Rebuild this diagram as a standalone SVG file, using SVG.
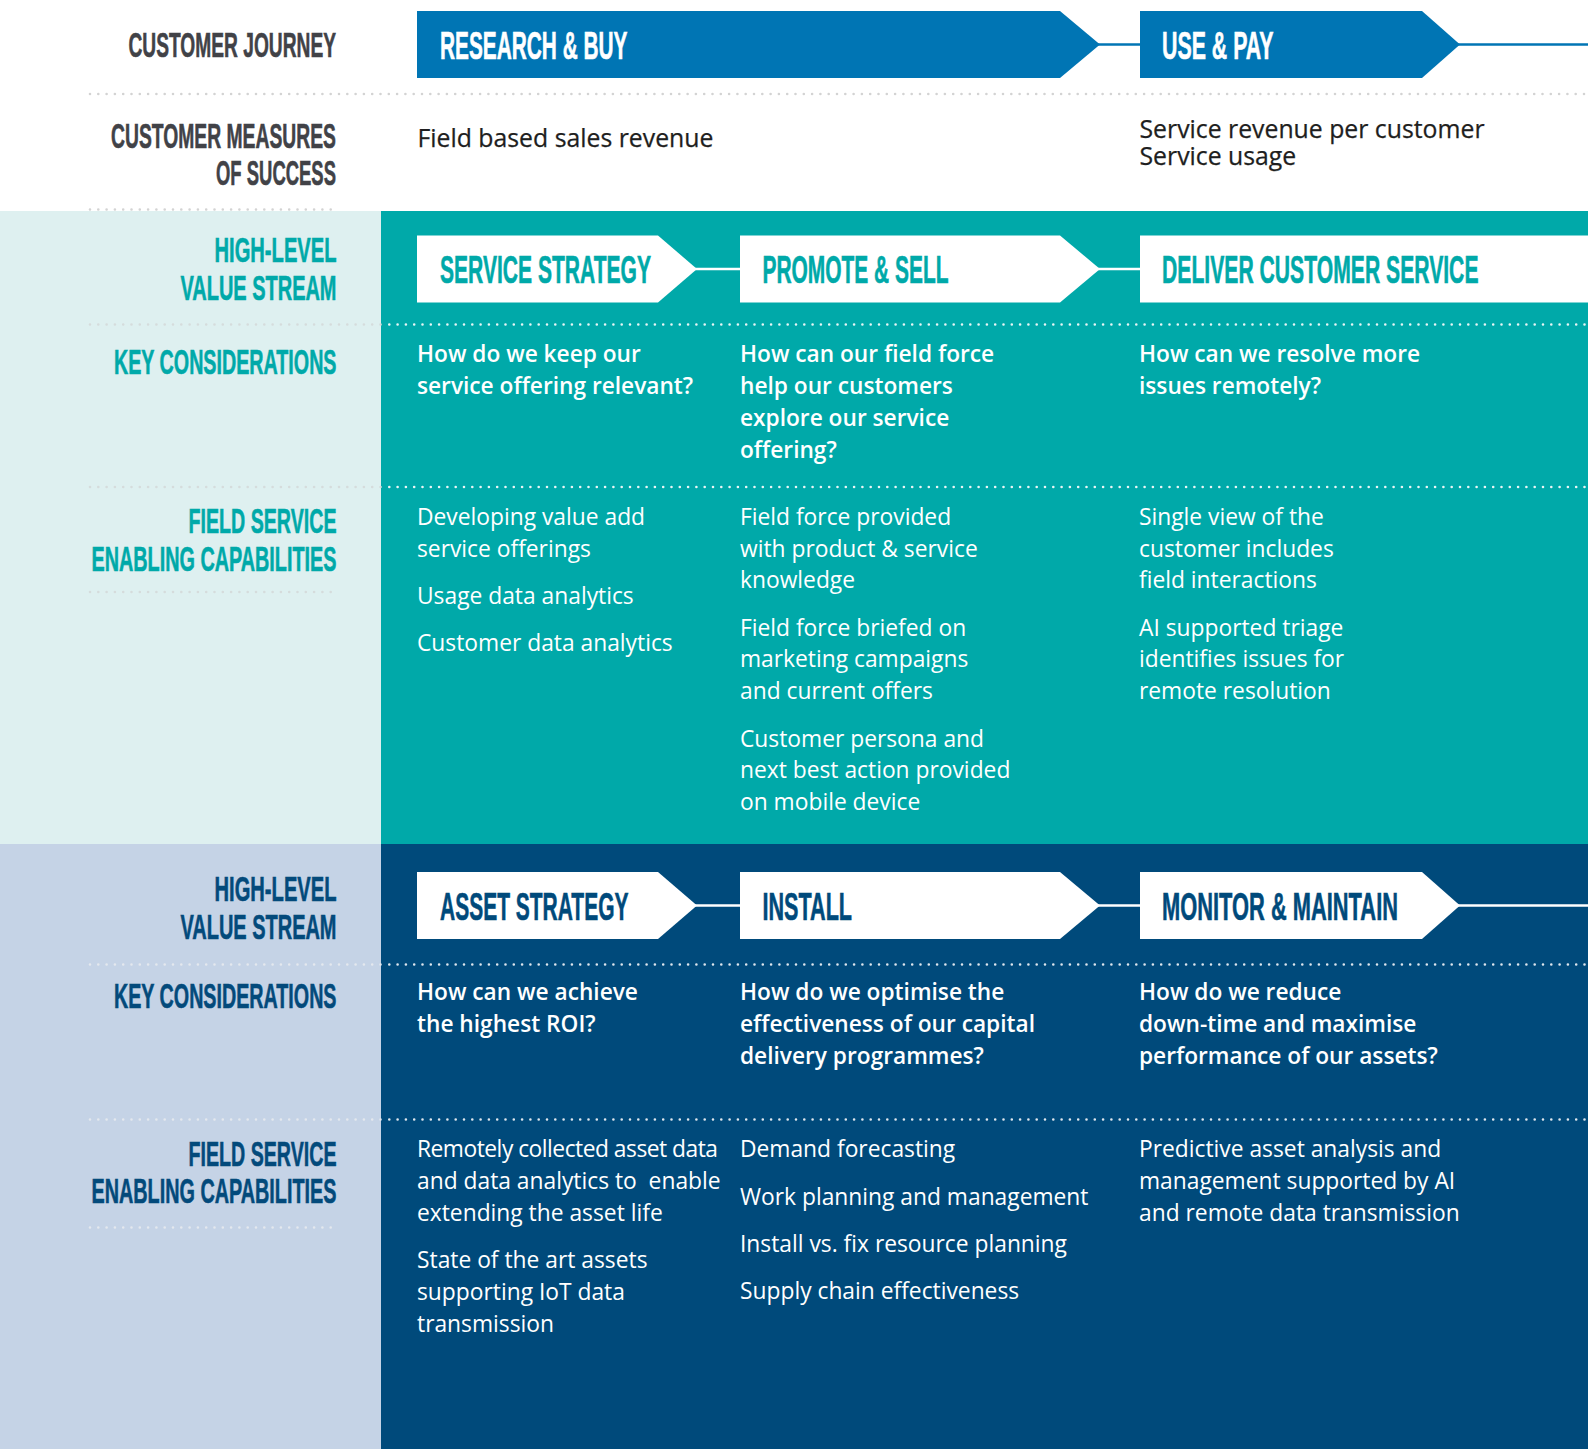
<svg xmlns="http://www.w3.org/2000/svg" width="1588" height="1449" viewBox="0 0 1588 1449">
  <defs>
    <style>
      .lbl { font-family: 'Liberation Sans Narrow', 'Liberation Sans', Arial, sans-serif; font-weight: 700; font-size: 35.5px; text-anchor: end; stroke-width: 0.6px; }
      .lbl-grey { fill: #414247; stroke: #414247; }
      .lbl-teal { fill: #00a9a9; stroke: #00a9a9; }
      .lbl-navy { fill: #034a7b; stroke: #034a7b; }
      .hdr { font-family: 'Liberation Sans Narrow', 'Liberation Sans', Arial, sans-serif; font-weight: 700; font-size: 38.5px; stroke-width: 0.6px; }
      .hdr-white { fill: #ffffff; stroke: #ffffff; }
      .hdr-teal { fill: #00a9a9; stroke: #00a9a9; }
      .hdr-navy { fill: #004a7b; stroke: #004a7b; }
      .body { font-family: 'Open Sans', 'Noto Sans', sans-serif; font-size: 22.8px; }
      .measure { font-family: 'Open Sans', 'Noto Sans', sans-serif; font-size: 24.8px; font-weight: 500; fill: #1e1e20; stroke: #1e1e20; stroke-width: 0.25px; }
      .kc { font-weight: 600; font-size: 22.7px; fill: #ffffff; }
      .cap { font-weight: 400; fill: #ffffff; }
      .dots { fill: none; stroke-width: 2.6; stroke-linecap: round; stroke-dasharray: 0 8.3; }
      .dots-grey { stroke: #d3d3d3; }
      .dots-pale { stroke: #d5dcdc; }
      .dots-paleblue { stroke: #e4e8ee; }
      .dots-white { stroke: #e9f6f6; }
      .dots-navy { stroke: #dfe7ee; }
      .link { fill: none; stroke-width: 2.5; }
      .arrow-blue { fill: #0075b4; }
      .arrow-white { fill: #ffffff; }
    </style>
  </defs>

  <!-- section backgrounds -->
  <rect x="0" y="0" width="1588" height="1449" fill="#ffffff"/>
  <rect x="0" y="211" width="381" height="633" fill="#def0f0"/>
  <rect x="381" y="211" width="1207" height="633" fill="#00a9a9"/>
  <rect x="0" y="844" width="381" height="605" fill="#c5d3e6"/>
  <rect x="381" y="844" width="1207" height="605" fill="#004a7b"/>

  <!-- dotted row separators -->
  <g id="separators">
    <line class="dots dots-grey" x1="90" y1="94" x2="1588" y2="94"/>
    <line class="dots dots-grey" x1="90" y1="209.5" x2="337" y2="209.5"/>
    <line class="dots dots-pale" x1="90" y1="324.5" x2="381" y2="324.5"/>
    <line class="dots dots-white" x1="389.3" y1="324.5" x2="1588" y2="324.5"/>
    <line class="dots dots-pale" x1="90" y1="487" x2="381" y2="487"/>
    <line class="dots dots-white" x1="389.3" y1="487" x2="1588" y2="487"/>
    <line class="dots dots-pale" x1="90" y1="592" x2="337" y2="592"/>
    <line class="dots dots-paleblue" x1="90" y1="964.5" x2="381" y2="964.5"/>
    <line class="dots dots-navy" x1="389.3" y1="964.5" x2="1588" y2="964.5"/>
    <line class="dots dots-paleblue" x1="90" y1="1119.5" x2="381" y2="1119.5"/>
    <line class="dots dots-navy" x1="389.3" y1="1119.5" x2="1588" y2="1119.5"/>
    <line class="dots dots-paleblue" x1="90" y1="1227.5" x2="337" y2="1227.5"/>
  </g>

  <!-- row labels -->
  <g id="label-customer-journey"><text class="lbl lbl-grey" x="336" y="57" textLength="207.5" lengthAdjust="spacingAndGlyphs">CUSTOMER JOURNEY</text></g>
  <g id="label-customer-measures">
    <text class="lbl lbl-grey" x="336" y="148" textLength="225" lengthAdjust="spacingAndGlyphs">CUSTOMER MEASURES</text>
    <text class="lbl lbl-grey" x="336" y="184.5" textLength="120" lengthAdjust="spacingAndGlyphs">OF SUCCESS</text>
  </g>
  <g id="label-service-value-stream">
    <text class="lbl lbl-teal" x="336.5" y="262" textLength="122" lengthAdjust="spacingAndGlyphs">HIGH-LEVEL</text>
    <text class="lbl lbl-teal" x="336.5" y="299.5" textLength="156" lengthAdjust="spacingAndGlyphs">VALUE STREAM</text>
  </g>
  <g id="label-service-considerations"><text class="lbl lbl-teal" x="336.5" y="374" textLength="222.5" lengthAdjust="spacingAndGlyphs">KEY CONSIDERATIONS</text></g>
  <g id="label-service-capabilities">
    <text class="lbl lbl-teal" x="336.5" y="532.5" textLength="148" lengthAdjust="spacingAndGlyphs">FIELD SERVICE</text>
    <text class="lbl lbl-teal" x="336.5" y="571" textLength="245" lengthAdjust="spacingAndGlyphs">ENABLING CAPABILITIES</text>
  </g>
  <g id="label-asset-value-stream">
    <text class="lbl lbl-navy" x="336.5" y="900.5" textLength="122" lengthAdjust="spacingAndGlyphs">HIGH-LEVEL</text>
    <text class="lbl lbl-navy" x="336.5" y="938.5" textLength="156" lengthAdjust="spacingAndGlyphs">VALUE STREAM</text>
  </g>
  <g id="label-asset-considerations"><text class="lbl lbl-navy" x="336.5" y="1008" textLength="222.5" lengthAdjust="spacingAndGlyphs">KEY CONSIDERATIONS</text></g>
  <g id="label-asset-capabilities">
    <text class="lbl lbl-navy" x="336.5" y="1166" textLength="148" lengthAdjust="spacingAndGlyphs">FIELD SERVICE</text>
    <text class="lbl lbl-navy" x="336.5" y="1203" textLength="245" lengthAdjust="spacingAndGlyphs">ENABLING CAPABILITIES</text>
  </g>

  <!-- connectors between chevrons -->
  <g id="connectors">
    <line class="link" stroke="#0075b4" x1="1098" y1="44.5" x2="1142" y2="44.5"/>
    <line class="link" stroke="#0075b4" x1="1458" y1="44.5" x2="1588" y2="44.5"/>
    <line class="link" stroke="#ffffff" x1="695" y1="269" x2="742" y2="269"/>
    <line class="link" stroke="#ffffff" x1="1098" y1="269" x2="1142" y2="269"/>
    <line class="link" stroke="#ffffff" x1="695" y1="905.5" x2="742" y2="905.5"/>
    <line class="link" stroke="#ffffff" x1="1098" y1="905.5" x2="1142" y2="905.5"/>
    <line class="link" stroke="#ffffff" x1="1458" y1="905.5" x2="1588" y2="905.5"/>
  </g>

  <!-- customer journey chevrons -->
  <g id="node-research-buy">
    <path class="arrow-blue" d="M417,11 H1060 L1100,44.5 L1060,78 H417 Z"/>
    <text class="hdr hdr-white" x="440" y="59" textLength="187.5" lengthAdjust="spacingAndGlyphs">RESEARCH &amp; BUY</text>
  </g>
  <g id="node-use-pay">
    <path class="arrow-blue" d="M1140,11 H1422 L1460,44.5 L1422,78 H1140 Z"/>
    <text class="hdr hdr-white" x="1162" y="59" textLength="111.5" lengthAdjust="spacingAndGlyphs">USE &amp; PAY</text>
  </g>

  <!-- customer measures of success -->
  <g id="measures-research-buy">
    <text class="measure" x="417.5" y="147">Field based sales revenue</text>
  </g>
  <g id="measures-use-pay">
    <text class="measure" x="1139.5" y="137.5">Service revenue per customer</text>
    <text class="measure" x="1139.5" y="165">Service usage</text>
  </g>

  <!-- field service value stream -->
  <g id="node-service-strategy">
    <path class="arrow-white" d="M417,235.5 H658 L697,269 L658,302.5 H417 Z"/>
    <text class="hdr hdr-teal" x="440" y="283" textLength="211" lengthAdjust="spacingAndGlyphs">SERVICE STRATEGY</text>
  </g>
  <g id="node-promote-sell">
    <path class="arrow-white" d="M740,235.5 H1060 L1100,269 L1060,302.5 H740 Z"/>
    <text class="hdr hdr-teal" x="762.5" y="283" textLength="186" lengthAdjust="spacingAndGlyphs">PROMOTE &amp; SELL</text>
  </g>
  <g id="node-deliver-customer-service">
    <rect class="arrow-white" x="1140" y="235.5" width="448" height="67"/>
    <text class="hdr hdr-teal" x="1162" y="283" textLength="316.5" lengthAdjust="spacingAndGlyphs">DELIVER CUSTOMER SERVICE</text>
  </g>

  <g id="kc-service-strategy" class="body kc">
    <text x="417" y="361.5">How do we keep our</text>
    <text x="417" y="393.5">service offering relevant?</text>
  </g>
  <g id="kc-promote-sell" class="body kc">
    <text x="740" y="361.5">How can our field force</text>
    <text x="740" y="393.5">help our customers</text>
    <text x="740" y="425.5">explore our service</text>
    <text x="740" y="457.5">offering?</text>
  </g>
  <g id="kc-deliver-customer-service" class="body kc">
    <text x="1139" y="361.5">How can we resolve more</text>
    <text x="1139" y="393.5">issues remotely?</text>
  </g>

  <g id="cap-service-strategy" class="body cap">
    <text x="417" y="525">Developing value add</text>
    <text x="417" y="556.7">service offerings</text>
    <text x="417" y="603.5">Usage data analytics</text>
    <text x="417" y="650.7">Customer data analytics</text>
  </g>
  <g id="cap-promote-sell" class="body cap">
    <text x="740" y="525">Field force provided</text>
    <text x="740" y="556.7">with product &amp; service</text>
    <text x="740" y="588.4">knowledge</text>
    <text x="740" y="635.5">Field force briefed on</text>
    <text x="740" y="667.3">marketing campaigns</text>
    <text x="740" y="699">and current offers</text>
    <text x="740" y="746.5">Customer persona and</text>
    <text x="740" y="778.3">next best action provided</text>
    <text x="740" y="810">on mobile device</text>
  </g>
  <g id="cap-deliver-customer-service" class="body cap">
    <text x="1139" y="525">Single view of the</text>
    <text x="1139" y="556.7">customer includes</text>
    <text x="1139" y="588.4">field interactions</text>
    <text x="1139" y="635.5">AI supported triage</text>
    <text x="1139" y="667.3">identifies issues for</text>
    <text x="1139" y="699">remote resolution</text>
  </g>

  <!-- asset value stream -->
  <g id="node-asset-strategy">
    <path class="arrow-white" d="M417,872 H658 L697,905.5 L658,939 H417 Z"/>
    <text class="hdr hdr-navy" x="440" y="920" textLength="188.5" lengthAdjust="spacingAndGlyphs">ASSET STRATEGY</text>
  </g>
  <g id="node-install">
    <path class="arrow-white" d="M740,872 H1060 L1100,905.5 L1060,939 H740 Z"/>
    <text class="hdr hdr-navy" x="762.5" y="920" textLength="89.5" lengthAdjust="spacingAndGlyphs">INSTALL</text>
  </g>
  <g id="node-monitor-maintain">
    <path class="arrow-white" d="M1140,872 H1422 L1460,905.5 L1422,939 H1140 Z"/>
    <text class="hdr hdr-navy" x="1162" y="920" textLength="236" lengthAdjust="spacingAndGlyphs">MONITOR &amp; MAINTAIN</text>
  </g>

  <g id="kc-asset-strategy" class="body kc">
    <text x="417" y="999.5">How can we achieve</text>
    <text x="417" y="1031.5">the highest ROI?</text>
  </g>
  <g id="kc-install" class="body kc">
    <text x="740" y="999.5">How do we optimise the</text>
    <text x="740" y="1031.5">effectiveness of our capital</text>
    <text x="740" y="1063.5">delivery programmes?</text>
  </g>
  <g id="kc-monitor-maintain" class="body kc">
    <text x="1139" y="999.5">How do we reduce</text>
    <text x="1139" y="1031.5">down-time and maximise</text>
    <text x="1139" y="1063.5">performance of our assets?</text>
  </g>

  <g id="cap-asset-strategy" class="body cap">
    <text x="417" y="1157.3" textLength="301" lengthAdjust="spacing">Remotely collected asset data</text>
    <text x="417" y="1189" xml:space="preserve">and data analytics to  enable</text>
    <text x="417" y="1220.7">extending the asset life</text>
    <text x="417" y="1267.7">State of the art assets</text>
    <text x="417" y="1300">supporting IoT data</text>
    <text x="417" y="1331.7">transmission</text>
  </g>
  <g id="cap-install" class="body cap">
    <text x="740" y="1157.3">Demand forecasting</text>
    <text x="740" y="1204.5">Work planning and management</text>
    <text x="740" y="1251.5">Install vs. fix resource planning</text>
    <text x="740" y="1298.5">Supply chain effectiveness</text>
  </g>
  <g id="cap-monitor-maintain" class="body cap">
    <text x="1139" y="1157.3">Predictive asset analysis and</text>
    <text x="1139" y="1189">management supported by AI</text>
    <text x="1139" y="1220.7">and remote data transmission</text>
  </g>
</svg>
